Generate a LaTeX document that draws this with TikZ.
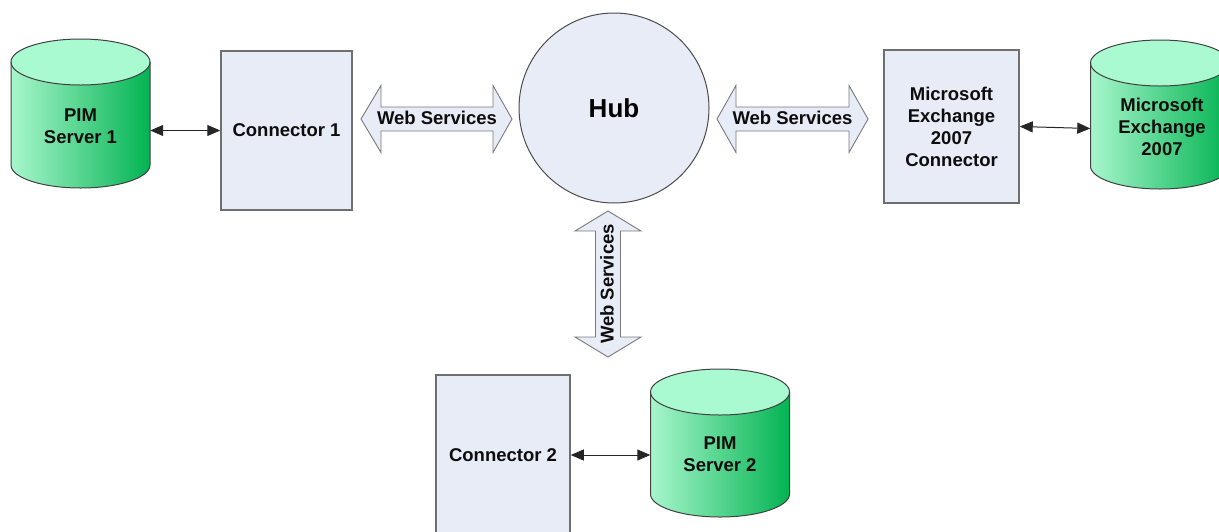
\documentclass[tikz,border=0pt]{standalone}
\usepackage{fontspec}
\setmainfont{Liberation Sans}
\usetikzlibrary{arrows.meta,calc}
\definecolor{boxfill}{HTML}{E7ECF7}
\definecolor{boxline}{HTML}{6F6F6F}
\definecolor{cyltop}{HTML}{A9FAD0}
\definecolor{cylleft}{HTML}{A8F6CC}
\definecolor{cylright}{HTML}{03B352}
\definecolor{cylline}{HTML}{404040}
\definecolor{wsline}{HTML}{7A7A7A}
\newcommand\drawcyl[3]{%
  \shade[left color=cylleft,right color=cylright] (#1-69.5,#2) -- (#1-69.5,#3)
    arc[start angle=180,end angle=0,x radius=69.5,y radius=23] -- (#1+69.5,#2) -- cycle;
  \fill[cyltop] (#1,#2) ellipse[x radius=69.5,y radius=23];
  \draw[cylline,line width=1pt] (#1-69.5,#2) -- (#1-69.5,#3)
    arc[start angle=180,end angle=0,x radius=69.5,y radius=23] -- (#1+69.5,#2);
  \draw[cylline,line width=1pt] (#1,#2) ellipse[x radius=69.5,y radius=23];
}
\begin{document}
\begin{tikzpicture}[x=1pt,y=-1pt,
  lbl/.style={font=\bfseries\fontsize{18.5}{22}\selectfont, align=center, text=black!95},
  boxnode/.style={lbl, draw=boxline, line width=1.5pt, fill=boxfill, inner sep=0pt},
  cylnode/.style={inner sep=0pt, minimum width=139pt},
  link/.style={{Triangle[length=13pt,width=11pt]}-{Triangle[length=13pt,width=11pt]}, line width=1pt, draw=black!85},
  wsarrow/.style={draw=wsline, line width=0.9pt, fill=boxfill, line join=miter},
]
\useasboundingbox (0,0) rectangle (1219,531);

% cylinders
\drawcyl{80.5}{62}{165}
\drawcyl{1160}{63}{166}
\drawcyl{720}{392}{494}
\node[cylnode, minimum height=103pt] (pim1) at (80.5,113.5) {};
\node[cylnode, minimum height=103pt] (excyl) at (1160,114.5) {};
\node[cylnode, minimum height=102pt] (pim2) at (720,443) {};
\node[lbl] (pim1t) at (80.5,126) {PIM\\Server 1};
\node[lbl] (excylt) at (1162,127) {Microsoft\\Exchange\\2007};
\node[lbl] (pim2t) at (720,454.5) {PIM\\Server 2};

% boxes
\node[boxnode, minimum width=131pt, minimum height=159pt] (conn1) at (286.5,130.5) {Connector 1};
\node[boxnode, minimum width=135pt, minimum height=153pt] (exconn) at (951.5,126.5) {Microsoft\\Exchange\\2007\\Connector};
\node[boxnode, minimum width=134pt, minimum height=160pt] (conn2) at (503,455) {Connector 2};

% hub
\node[circle, draw=black!70, line width=1pt, fill=boxfill, minimum size=190pt, inner sep=0pt,
      font=\bfseries\fontsize{26}{30}\selectfont] (hub) at (614,108) {Hub};

% web services arrows
\draw[wsarrow] (361,119) -- (381,85.5) -- (381,107) -- (493,107) -- (493,85.5) -- (512,119)
  -- (493,152.5) -- (493,131) -- (381,131) -- (381,152.5) -- cycle;
\draw[wsarrow] (717,119) -- (736,85.5) -- (736,107) -- (849,107) -- (849,85.5) -- (868,119)
  -- (849,152.5) -- (849,131) -- (736,131) -- (736,152.5) -- cycle;
\draw[wsarrow] (608,211) -- (641,231) -- (620.5,231) -- (620.5,337) -- (641,337) -- (608,357)
  -- (575,337) -- (595.5,337) -- (595.5,231) -- (575,231) -- cycle;
\node[lbl] (ws1) at (437,118) {Web Services};
\node[lbl] (ws2) at (792.5,118) {Web Services};
\node[lbl, rotate=90] (ws3) at (607,284) {Web Services};

% links
\draw[link] (pim1.east |- conn1.west) -- (conn1.west);
\draw[link] (exconn.east) -- ($(excyl.west |- exconn.east)+(0,2)$);
\draw[link] (conn2.east) -- (pim2.west |- conn2.east);
\end{tikzpicture}
\end{document}
